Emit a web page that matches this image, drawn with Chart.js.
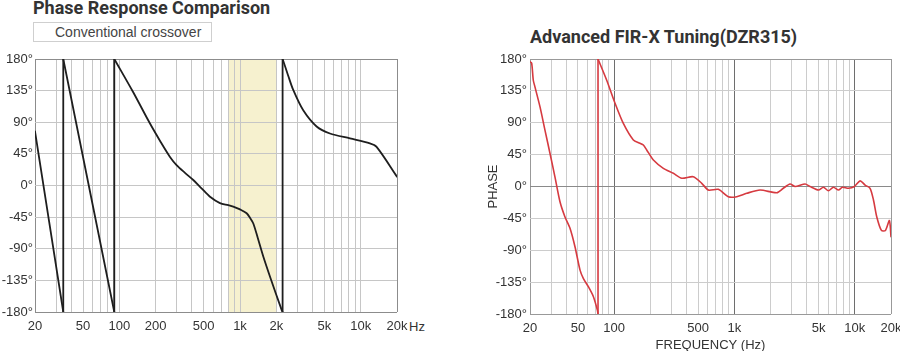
<!DOCTYPE html>
<html>
<head>
<meta charset="utf-8">
<script src="https://cdn.jsdelivr.net/npm/chart.js@4.4.0/dist/chart.umd.min.js"></script>
<style>
html,body{margin:0;padding:0;width:900px;height:351px;overflow:hidden;background:#fff;}
canvas{position:absolute;top:0;}
#c1{left:0;}
#c2{left:450px;}
.title{position:absolute;font-family:Roboto,'Liberation Sans',sans-serif;font-weight:700;color:#333;white-space:nowrap;line-height:1;font-size:18px;}
#t1{left:33px;top:-1px;}
#t2{left:530px;top:28px;}
#legendBox{position:absolute;left:33px;top:22px;width:179px;height:20px;box-sizing:border-box;border:1px solid #cfcfcf;
  font-family:'Liberation Sans',Arial,sans-serif;font-size:14px;color:#444;line-height:18px;padding-left:21px;white-space:nowrap;}
#hz{position:absolute;left:409px;top:319px;font-family:'Liberation Sans',Arial,sans-serif;font-size:13px;color:#333;line-height:15px;}
</style>
</head>
<body>
<div class="title" id="t1">Phase Response Comparison</div>
<div id="legendBox">Conventional crossover</div>
<div id="hz">Hz</div>
<div class="title" id="t2">Advanced FIR-X Tuning(DZR315)</div>
<canvas id="c1" width="450" height="360"></canvas>
<canvas id="c2" width="460" height="360"></canvas>
<script>
// ---- data ----
const leftFreq  = [20, 34.3, 34.3, 90.8, 90.8, 130, 179, 220, 262, 298, 350, 410, 480, 564, 682, 800, 879, 1000, 1135, 1220, 1289, 1400, 1559, 1800, 2213, 2254, 2254, 2500, 2761, 3342, 4313, 5560, 8146, 11920, 13550, 20000];
const leftPhase = [77, -180, 180, -180, 180, 133, 88.5, 62, 41, 29, 18, 7.8, -4, -16, -25, -28, -30, -34, -39.5, -47, -54, -74, -101, -133, -177, -180, 180, 157, 136, 107, 84, 74, 67, 60, 55, 12.5];

const rightFreq  = [20, 20.65, 21.3, 21.96, 24.2, 26.6, 29.3, 32.2, 35.5, 39, 43, 47.3, 52.1, 55.6, 61.1, 67.3, 72.5, 73.5, 73.5, 86.8, 101.8, 119.3, 144.5, 164, 175, 186.6, 212, 256.6, 310.6, 364.8, 455, 535, 607, 735, 889, 1045, 1265, 1633, 2245, 2548, 2897, 3190, 3863, 4250, 4990, 5490, 6040, 6640, 7320, 7900, 8850, 9930, 11070, 12190, 13400, 14300, 15240, 16650, 17980, 19400, 20000];
const rightPhase = [176, 174, 150, 141, 112.7, 80, 47, 14, -21.5, -42.6, -59, -85, -118, -130, -141.5, -155.6, -174, -180, 180, 150, 117.5, 89, 65.7, 61, 58.6, 51.6, 37.4, 25.7, 18.6, 11.6, 13.8, 4.5, -5, -4, -14.4, -14.4, -9.6, -5, -8.8, -2.5, 3.5, 0, 3.5, 0, -5, -1, -6, -1, -5, -1, -2.5, 0, 8, 2, -2.5, -19, -43, -62, -62, -48, -71];

const crossoverBand = [800, 2000];

const gridFreqs = [20,30,40,50,60,70,80,90,100,200,300,400,500,600,700,800,900,1000,2000,3000,4000,5000,6000,7000,8000,9000,10000,20000];
const phaseTicks = [-180,-135,-90,-45,0,45,90,135,180];

const leftTickValues  = [20, 50, 100, 200, 500, 1000, 2000, 5000, 10000, 20000];
const leftTickLabels  = ['20','50','100','200','500','1k','2k','5k','10k','20k'];
const rightTickValues = [20, 50, 100, 500, 1000, 5000, 10000, 20000];
const rightTickLabels = ['20','50','100','500','1k','5k','10k','20k'];
const rightMajorFreqs = [100, 1000, 10000];

// ---- setup ----
const FONT = "'Liberation Sans', Arial, sans-serif";
Chart.defaults.font.family = FONT;
Chart.defaults.font.size = 13;
Chart.defaults.color = '#333';

const bandPlugin = {
  id: 'band',
  beforeDraw(chart) {
    const {ctx, chartArea: a, scales: {x}} = chart;
    const x0 = x.getPixelForValue(crossoverBand[0]);
    const x1 = x.getPixelForValue(crossoverBand[1]);
    ctx.save();
    ctx.fillStyle = '#f6f1cf';
    ctx.fillRect(x0, a.top, x1 - x0, a.bottom - a.top);
    ctx.restore();
  }
};

// split a series into smooth pieces and vertical wrap-around jumps (same frequency twice)
function buildDatasets(fs, ps, color, width, tension) {
  const sets = [];
  let cur = [];
  for (let i = 0; i < fs.length; i++) {
    cur.push({x: fs[i], y: ps[i]});
    if (i + 1 < fs.length && fs[i + 1] === fs[i]) {
      sets.push({pts: cur, t: tension});
      sets.push({pts: [{x: fs[i], y: ps[i]}, {x: fs[i + 1], y: ps[i + 1]}], t: 0});
      cur = [];
    }
  }
  if (cur.length) sets.push({pts: cur, t: tension});
  return sets.map(s => ({
    data: s.pts, borderColor: color, borderWidth: width, pointRadius: 0,
    tension: s.t, fill: false, borderJoinStyle: 'round', borderCapStyle: 'round'
  }));
}
function labelFrom(values, labels) {
  return v => { const i = values.indexOf(v); return i >= 0 ? labels[i] : ''; };
}

const edgeColor = '#8c8c8c';

new Chart(document.getElementById('c1'), {
  type: 'line',
  data: { datasets: buildDatasets(leftFreq, leftPhase, '#1e1e1e', 1.8, 0.3) },
  options: {
    responsive: false, animation: false, devicePixelRatio: 1,
    layout: { padding: { top: 59, left: 0, right: 53, bottom: 18 } },
    plugins: { legend: { display: false }, tooltip: { enabled: false } },
    scales: {
      x: {
        type: 'logarithmic', min: 20, max: 20000,
        afterBuildTicks: s => { s.ticks = gridFreqs.map(v => ({value: v})); },
        afterFit: s => { s.height = 30; },
        grid: { drawTicks: false, color: c => (c.tick && (c.tick.value === 20 || c.tick.value === 20000)) ? edgeColor : '#c6c6c6' },
        border: { display: false },
        ticks: { autoSkip: false, maxRotation: 0, padding: 7, callback: labelFrom(leftTickValues, leftTickLabels) }
      },
      y: {
        min: -180, max: 180,
        afterBuildTicks: s => { s.ticks = phaseTicks.map(v => ({value: v})); },
        afterFit: s => { s.width = 35; },
        grid: { drawTicks: false, color: c => (c.tick && Math.abs(c.tick.value) === 180) ? edgeColor : '#c6c6c6' },
        border: { display: false },
        ticks: { padding: 2, callback: v => v + '°' }
      }
    }
  },
  plugins: [bandPlugin]
});

new Chart(document.getElementById('c2'), {
  type: 'line',
  data: { datasets: buildDatasets(rightFreq, rightPhase, '#d63a40', 1.6, 0.25) },
  options: {
    responsive: false, animation: false, devicePixelRatio: 1,
    layout: { padding: { top: 59, left: 36, right: 19, bottom: 7 } },
    plugins: { legend: { display: false }, tooltip: { enabled: false } },
    scales: {
      x: {
        type: 'logarithmic', min: 20, max: 20000,
        afterBuildTicks: s => { s.ticks = gridFreqs.map(v => ({value: v})); },
        afterFit: s => { s.height = 39; },
        grid: { drawTicks: false, color: c => {
          if (!c.tick) return '#cccccc';
          const v = c.tick.value;
          if (v === 20 || v === 20000) return '#999999';
          return rightMajorFreqs.includes(v) ? '#6e6e6e' : '#cccccc';
        }},
        border: { display: false },
        title: { display: true, text: 'FREQUENCY (Hz)', padding: {top: 0, bottom: 0}, color: '#333', font: {size: 13} },
        ticks: { autoSkip: false, maxRotation: 0, padding: 7, callback: labelFrom(rightTickValues, rightTickLabels) }
      },
      y: {
        min: -180, max: 180,
        afterBuildTicks: s => { s.ticks = phaseTicks.map(v => ({value: v})); },
        afterFit: s => { s.width = 44; },
        grid: { drawTicks: false, color: c => {
          if (!c.tick) return '#cccccc';
          const v = c.tick.value;
          if (Math.abs(v) === 180) return '#999999';
          return v === 0 ? '#8a8a8a' : '#cccccc';
        }},
        border: { display: false },
        title: { display: true, text: 'PHASE', padding: {top: 0, bottom: 0}, color: '#333', font: {size: 13} },
        ticks: { padding: 3, callback: v => v + '°' }
      }
    }
  }
});
</script>
</body>
</html>
